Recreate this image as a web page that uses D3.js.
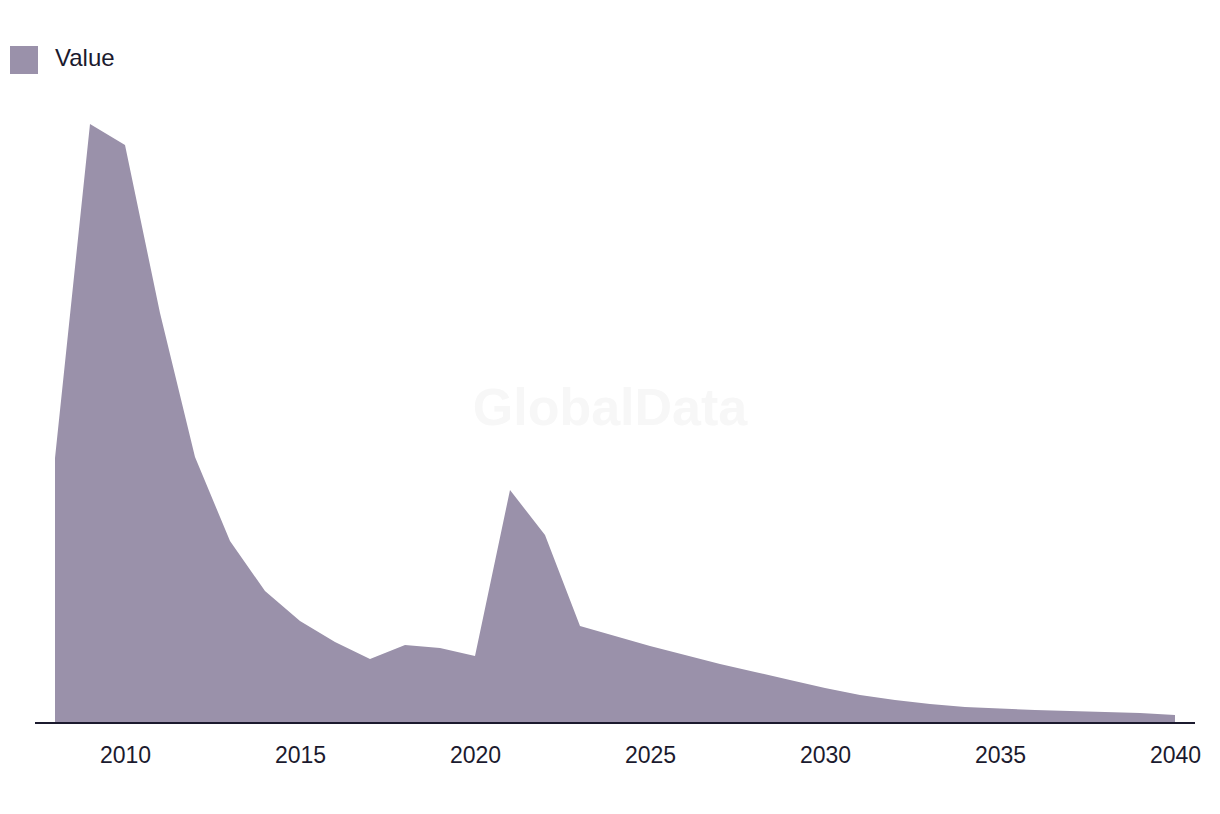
<!DOCTYPE html>
<html>
<head>
<meta charset="utf-8">
<script src="https://cdn.jsdelivr.net/npm/d3@7"></script>
<style>
  html, body { margin: 0; padding: 0; background: #ffffff; }
  svg { display: block; }
</style>
</head>
<body>
<svg id="chart" width="1220" height="814"></svg>
<script>
const years = [2008,2009,2010,2011,2012,2013,2014,2015,2016,2017,2018,2019,2020,2021,2022,2023,2024,2025,2026,2027,2028,2029,2030,2031,2032,2033,2034,2035,2036,2037,2038,2039,2040];
const values = [265,599,578,410,266,182,132,102,81,64,78,75,67,233,188,97,87,77,68,59,51,43,35,28,23,19,16,14.5,13,12,11,10,8];
const tickYears = [2010,2015,2020,2025,2030,2035,2040];
const seriesName = "Value";

const data = years.map((y, i) => ({ year: y, value: values[i] }));

const svg = d3.select("#chart");
const x = d3.scaleLinear().domain([2008, 2040]).range([55, 1175]);
const y = d3.scaleLinear().domain([0, 600]).range([723, 123]);

const fillColor = "#9a91aa";
const textColor = "#1b1a2e";

// watermark
svg.append("text")
  .attr("x", 610).attr("y", 425)
  .attr("text-anchor", "middle")
  .attr("font-family", "Liberation Sans, Arial, sans-serif")
  .attr("font-weight", "bold")
  .attr("font-size", 52)
  .attr("fill", "#f7f7f7")
  .text("GlobalData");

// area
const area = d3.area()
  .x(d => x(d.year))
  .y0(y(0))
  .y1(d => y(d.value));

svg.append("path")
  .datum(data)
  .attr("d", area)
  .attr("fill", fillColor);

// x axis
const axis = d3.axisBottom(x)
  .tickValues(tickYears)
  .tickFormat(d3.format("d"))
  .tickSize(0)
  .tickPadding(24);

const gx = svg.append("g")
  .attr("transform", `translate(0,${y(0)})`)
  .call(axis);
gx.select(".domain").remove();
gx.selectAll("text")
  .attr("font-family", "Liberation Sans, Arial, sans-serif")
  .attr("font-size", 23)
  .attr("fill", textColor);

svg.append("line")
  .attr("x1", 35).attr("x2", 1195)
  .attr("y1", y(0)).attr("y2", y(0))
  .attr("stroke", textColor)
  .attr("stroke-width", 2);

// legend
const legend = svg.append("g");
legend.append("rect")
  .attr("x", 10).attr("y", 46)
  .attr("width", 28).attr("height", 28)
  .attr("fill", fillColor);
legend.append("text")
  .attr("x", 55).attr("y", 66)
  .attr("font-family", "Liberation Sans, Arial, sans-serif")
  .attr("font-size", 24)
  .attr("fill", textColor)
  .text(seriesName);
</script>
</body>
</html>
